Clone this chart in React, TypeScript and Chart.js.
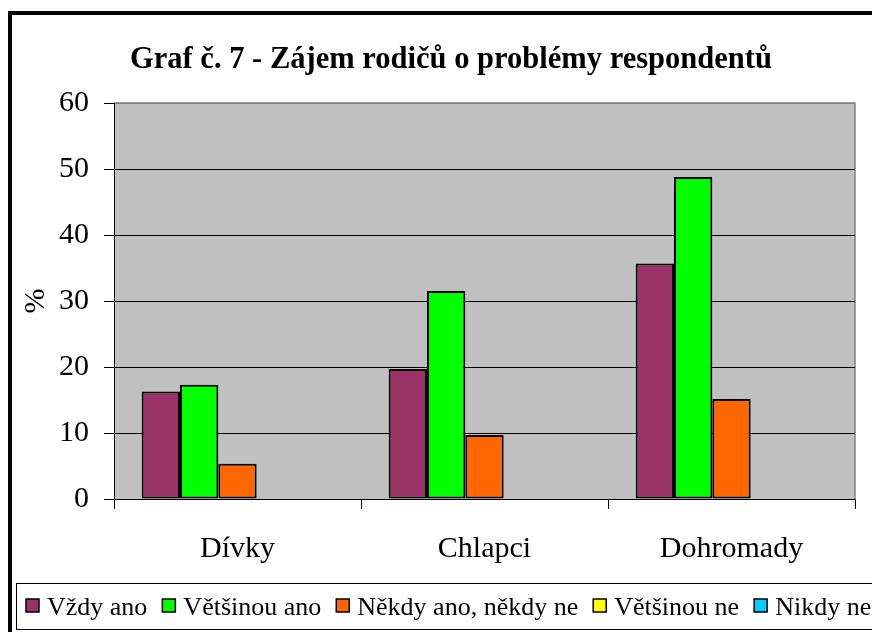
import React, { useEffect, useRef } from "react";
import { Chart, registerables } from "chart.js";

Chart.register(...registerables);

const TITLE = "Graf č. 7 - Zájem rodičů o problémy respondentů";
const categories = ["Dívky", "Chlapci", "Dohromady"];
const seriesNames = ["Vždy ano", "Většinou ano", "Někdy ano, někdy ne", "Většinou ne", "Nikdy ne"];
const seriesColors = ["#993366", "#00FF00", "#FF6600", "#FFFF00", "#00CCFF"];
const vzdyAno = [16.3, 19.7, 35.7];
const vetsinouAno = [17.3, 31.5, 48.8];
const nekdy = [5.35, 9.7, 15.15];
const vetsinouNe = [0, 0, 0];
const nikdyNe = [0, 0, 0];
const seriesValues = [vzdyAno, vetsinouAno, nekdy, vetsinouNe, nikdyNe];
const yTicks = [0, 10, 20, 30, 40, 50, 60];
const yAxisTitle = "%";

const FONT = "'Liberation Serif', 'Times New Roman', serif";

const decorPlugin = {
  id: "decor",
  beforeDraw(chart: any) {
    const { ctx, chartArea } = chart;
    ctx.save();
    ctx.fillStyle = "#C0C0C0";
    ctx.fillRect(chartArea.left, chartArea.top, chartArea.right - chartArea.left, chartArea.bottom - chartArea.top);
    ctx.strokeStyle = "#808080";
    ctx.lineWidth = 1.5;
    ctx.beginPath();
    ctx.moveTo(chartArea.left, chartArea.top);
    ctx.lineTo(chartArea.right, chartArea.top);
    ctx.lineTo(chartArea.right, chartArea.bottom);
    ctx.stroke();
    ctx.restore();
  },
  afterDraw(chart: any) {
    const { ctx } = chart;
    ctx.save();
    // outer border
    ctx.strokeStyle = "#000";
    ctx.lineWidth = 4;
    ctx.strokeRect(10, 13, 900, 700);
    // title
    ctx.font = `bold 32px ${FONT}`;
    ctx.fillStyle = "#000";
    ctx.textBaseline = "alphabetic";
    ctx.textAlign = "left";
    const w = ctx.measureText(TITLE).width;
    const target = 642;
    const sx = target / w;
    ctx.save();
    ctx.translate(130, 68);
    ctx.scale(sx, 1);
    ctx.fillText(TITLE, 0, 0);
    ctx.restore();
    // legend
    ctx.lineWidth = 1;
    ctx.strokeStyle = "#000";
    ctx.strokeRect(16.5, 583.5, 900, 46);
    ctx.font = `26px ${FONT}`;
    let x = 26;
    chart.data.datasets.forEach((ds: any) => {
      ctx.fillStyle = ds.backgroundColor;
      ctx.fillRect(x, 599, 13, 13);
      ctx.lineWidth = 1.5;
      ctx.strokeRect(x, 599, 13, 13);
      ctx.fillStyle = "#000";
      ctx.fillText(ds.label, x + 21, 615);
      x += 21 + ctx.measureText(ds.label).width + 15;
    });
    ctx.restore();
  },
};

export default function App() {
  const ref = useRef<HTMLCanvasElement>(null);
  useEffect(() => {
    if (!ref.current) return;
    const chart = new Chart(ref.current, {
      type: "bar",
      data: {
        labels: categories,
        datasets: seriesNames.map((name, i) => ({
          label: name,
          data: seriesValues[i],
          backgroundColor: seriesColors[i],
          borderColor: "#000",
          borderWidth: 2,
          borderSkipped: false,
          categoryPercentage: 0.776,
          barPercentage: 1,
        })),
      },
      options: {
        responsive: false,
        animation: false,
        events: [],
        layout: { padding: { left: 0, top: 103, right: 17, bottom: 0 } },
        plugins: {
          legend: { display: false },
          title: { display: false },
          tooltip: { enabled: false },
        },
        scales: {
          x: {
            afterFit: (s: any) => {
              s.height = 133;
            },
            grid: {
              display: true,
              drawOnChartArea: false,
              drawTicks: true,
              tickLength: 10,
              color: "#000",
              offset: true,
            },
            border: { display: true, color: "#000", width: 1 },
            ticks: {
              color: "#000",
              font: { family: FONT, size: 30 },
              padding: 22,
            },
          },
          y: {
            min: 0,
            max: 60,
            afterFit: (s: any) => {
              s.width = 114;
            },
            afterBuildTicks: (s: any) => {
              s.ticks = yTicks.map((v) => ({ value: v }));
            },
            grid: {
              drawTicks: true,
              tickLength: 10,
              color: (c: any) => (c.tick && c.tick.value === 60 ? "#808080" : "#000"),
              tickColor: "#000",
              lineWidth: 1,
            },
            border: { display: true, color: "#000", width: 1 },
            ticks: {
              color: "#000",
              font: { family: FONT, size: 30 },
              padding: 15,
            },
            title: {
              display: true,
              text: yAxisTitle,
              color: "#000",
              font: { family: FONT, size: 30 },
              padding: { top: 18, bottom: 0 },
            },
          },
        },
      },
      plugins: [decorPlugin],
    });
    return () => chart.destroy();
  }, []);
  return (
    <div style={{ position: "absolute", left: 0, top: 0, width: 872, height: 632 }}>
      <canvas ref={ref} width={872} height={632} style={{ display: "block" }} />
    </div>
  );
}
